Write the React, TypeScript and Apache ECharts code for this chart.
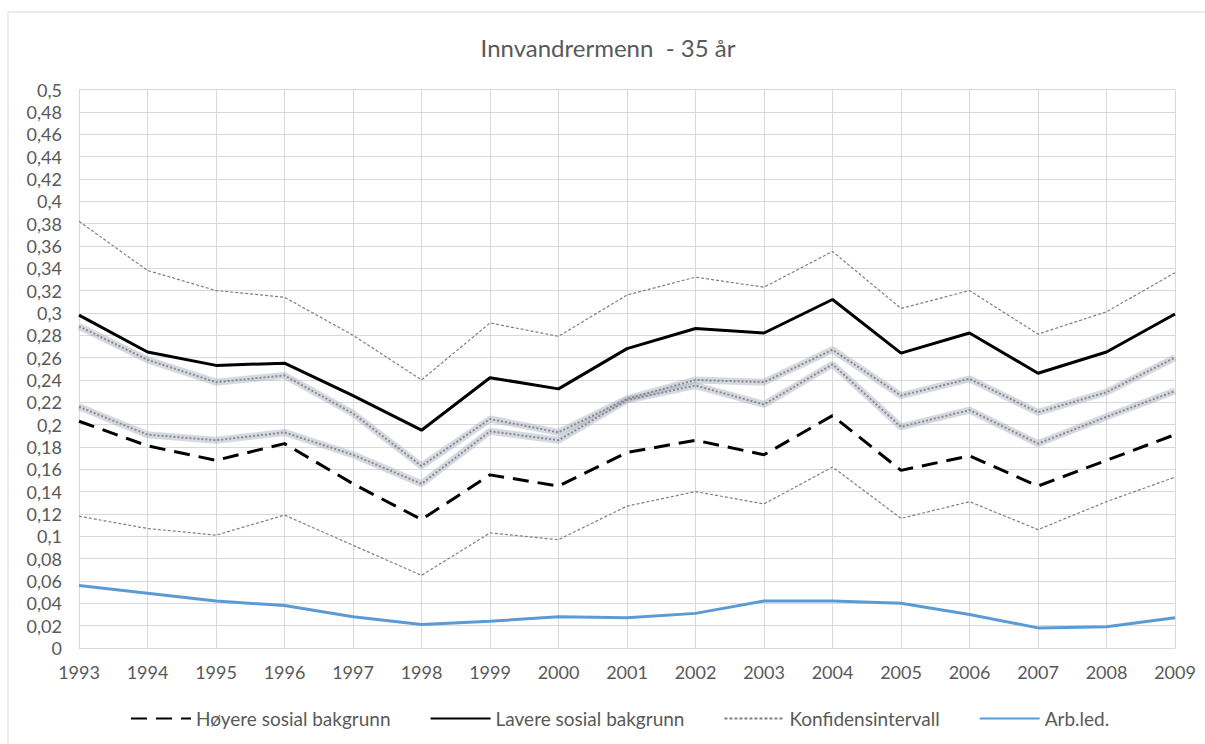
import React, { useEffect, useRef } from "react";
import * as echarts from "echarts";

const years = ["1993","1994","1995","1996","1997","1998","1999","2000","2001","2002","2003","2004","2005","2006","2007","2008","2009"];

const hoyere = [0.203, 0.181, 0.168, 0.183, 0.147, 0.115, 0.155, 0.145, 0.175, 0.186, 0.173, 0.208, 0.159, 0.172, 0.145, 0.168, 0.191];
const lavere = [0.298, 0.265, 0.253, 0.255, 0.226, 0.195, 0.242, 0.232, 0.268, 0.286, 0.282, 0.312, 0.264, 0.282, 0.246, 0.265, 0.299];
const lavereUpper = [0.382, 0.338, 0.320, 0.314, 0.280, 0.240, 0.291, 0.279, 0.316, 0.332, 0.323, 0.355, 0.304, 0.320, 0.281, 0.301, 0.336];
const lavereLower = [0.288, 0.258, 0.238, 0.244, 0.210, 0.163, 0.205, 0.193, 0.223, 0.240, 0.238, 0.267, 0.226, 0.241, 0.211, 0.229, 0.260];
const hoyereUpper = [0.216, 0.191, 0.186, 0.193, 0.173, 0.147, 0.194, 0.186, 0.222, 0.235, 0.218, 0.254, 0.198, 0.213, 0.183, 0.207, 0.230];
const hoyereLower = [0.118, 0.107, 0.101, 0.119, 0.092, 0.065, 0.103, 0.097, 0.127, 0.140, 0.129, 0.162, 0.116, 0.131, 0.106, 0.131, 0.153];
const arbLed = [0.056, 0.049, 0.042, 0.038, 0.028, 0.021, 0.024, 0.028, 0.027, 0.031, 0.042, 0.042, 0.040, 0.030, 0.018, 0.019, 0.027];

const titleText = "Innvandrermenn  - 35 år";
const legendNames = ["Høyere sosial bakgrunn", "Lavere sosial bakgrunn", "Konfidensintervall", "Arb.led."];

const FONT = "Lato, 'Noto Sans', sans-serif";
const TEXT = "#595959";
const GRID = "#d9d9d9";

export default function App() {
  const ref = useRef<HTMLDivElement>(null);
  useEffect(() => {
    if (!ref.current) return;
    const chart = echarts.init(ref.current, null, { renderer: "svg" });
    const thin = { color: "#7f7f7f", width: 1.2, type: [3, 2] as number[] };
    const glow = { color: "rgba(165,170,190,0.45)", width: 7, type: "solid" as const };
    const core = { color: "#8a8a8a", width: 2, type: [2, 2] as number[] };
    const base = { type: "line" as const, symbol: "none", showSymbol: false, silent: true };
    chart.setOption({
      animation: false,
      backgroundColor: "#ffffff",
      textStyle: { fontFamily: FONT },
      graphic: [
        { type: "rect", shape: { x: 8, y: 12, width: 1220, height: 760 }, style: { fill: "none", stroke: GRID, lineWidth: 1 }, silent: true },
        { type: "text", x: 608, y: 47, style: { text: titleText, textAlign: "center", textVerticalAlign: "middle", fill: TEXT, font: "24px " + FONT } },
      ],
      grid: { left: 79, right: 30, top: 89.5, bottom: 96, containLabel: false },
      legend: {
        data: legendNames,
        left: 125,
        top: 704,
        itemWidth: 60,
        itemHeight: 14,
        itemGap: 39,
        itemStyle: { opacity: 0 },
        textStyle: { color: TEXT, fontSize: 19, fontFamily: FONT },
      },
      xAxis: {
        type: "category",
        data: years,
        boundaryGap: false,
        axisLine: { show: true, lineStyle: { color: GRID, width: 1 } },
        axisTick: { show: false },
        axisLabel: { color: TEXT, fontSize: 18, fontFamily: FONT, margin: 15 },
        splitLine: { show: true, lineStyle: { color: GRID, width: 1 } },
      },
      yAxis: {
        type: "value",
        min: 0,
        max: 0.5,
        interval: 0.02,
        axisLine: { show: false },
        axisTick: { show: false },
        axisLabel: {
          color: TEXT,
          fontSize: 18,
          fontFamily: FONT,
          margin: 17,
          formatter: (v: number) => String(+v.toFixed(2)).replace(".", ","),
        },
        splitLine: { show: true, lineStyle: { color: GRID, width: 1 } },
      },
      series: [
        { ...base, name: "Konfidensintervall", data: lavereUpper, lineStyle: thin, itemStyle: { color: "#7f7f7f" } },
        { ...base, name: "Konfidensintervall", data: hoyereLower, lineStyle: thin, itemStyle: { color: "#7f7f7f" } },
        { ...base, name: "glowA", data: lavereLower, lineStyle: glow },
        { ...base, name: "glowB", data: hoyereUpper, lineStyle: glow },
        { ...base, name: "coreA", data: lavereLower, lineStyle: core },
        { ...base, name: "coreB", data: hoyereUpper, lineStyle: core },
        { ...base, name: "Arb.led.", data: arbLed, lineStyle: { color: "#5b9bd5", width: 3 }, itemStyle: { color: "#5b9bd5" } },
        { ...base, name: "Høyere sosial bakgrunn", data: hoyere, lineStyle: { color: "#000000", width: 3, type: [16, 9] }, itemStyle: { color: "#000000" } },
        { ...base, name: "Lavere sosial bakgrunn", data: lavere, lineStyle: { color: "#000000", width: 3 }, itemStyle: { color: "#000000" } },
      ],
    });
    return () => chart.dispose();
  }, []);
  return <div ref={ref} style={{ position: "fixed", left: 0, top: 0, width: 1205, height: 744 }} />;
}
